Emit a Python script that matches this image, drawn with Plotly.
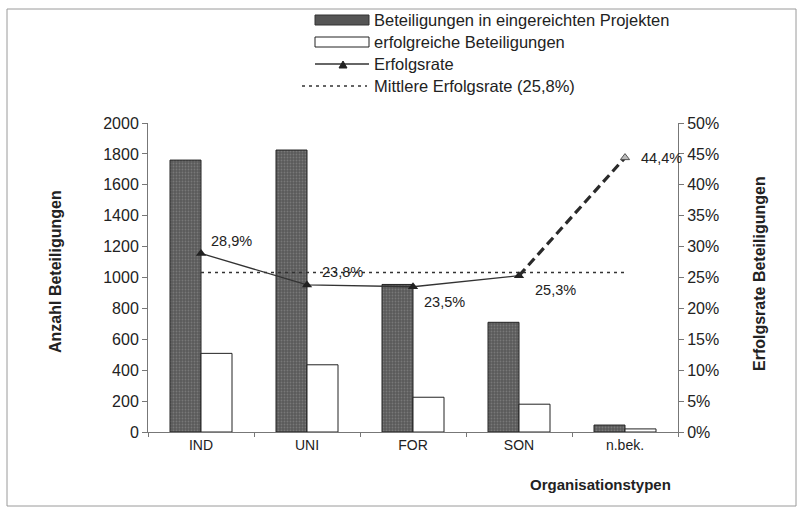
import plotly.graph_objects as go

categories = ["IND", "UNI", "FOR", "SON", "n.bek."]
eingereicht = [1760, 1825, 955, 710, 45]
erfolgreich = [509, 435, 225, 180, 20]
erfolgsrate = [28.9, 23.8, 23.5, 25.3, 44.4]
rate_labels = ["28,9%", "23,8%", "23,5%", "25,3%", "44,4%"]
mittel = 25.8
left_ticks = list(range(0, 2001, 200))
right_ticks = list(range(0, 51, 5))
right_ticklabels = [f"{v}%" for v in right_ticks]

W, H = 798, 509
L, R, T, B = 148, 678, 123, 432
FONT = "Liberation Sans, Arial, sans-serif"
TXT = "#222222"

def px(x):
    return (x - L) / (R - L)

def py(y):
    return (B - y) / (B - T)

fig = go.Figure()
fig.add_trace(go.Bar(
    x=categories, y=eingereicht, name="Beteiligungen in eingereichten Projekten",
    marker=dict(color="#5e5e5e", line=dict(color="#222222", width=1),
                pattern=dict(shape=".", fgcolor="#959595", bgcolor="#5a5a5a", size=3, solidity=0.3)),
    showlegend=False))
fig.add_trace(go.Bar(
    x=categories, y=erfolgreich, name="erfolgreiche Beteiligungen",
    marker=dict(color="white", line=dict(color="#222222", width=1)),
    showlegend=False))
# mean line
fig.add_trace(go.Scatter(
    x=[categories[0], categories[-1]], y=[mittel, mittel], yaxis="y2", mode="lines",
    line=dict(color="#333333", width=1.5, dash="3px,4px"), showlegend=False))
# success rate solid part
fig.add_trace(go.Scatter(
    x=categories[:4], y=erfolgsrate[:4], yaxis="y2", mode="lines+markers",
    line=dict(color="#333333", width=1.3),
    marker=dict(symbol="triangle-up", size=9, color="#222222"), showlegend=False))
# success rate dashed part
fig.add_trace(go.Scatter(
    x=categories[3:], y=erfolgsrate[3:], yaxis="y2", mode="lines",
    line=dict(color="#2a2a2a", width=3.2, dash="9px,5px"), showlegend=False))
fig.add_trace(go.Scatter(
    x=[categories[4]], y=[erfolgsrate[4]], yaxis="y2", mode="markers",
    marker=dict(symbol="triangle-up", size=8, color="#bbbbbb", line=dict(color="#555555", width=1)),
    showlegend=False))

annotations = []
offsets = [(8, 12), (13, 13), (9, -15), (14, -14), (14, 0)]
for c, v, t, (dx, dy) in zip(categories, erfolgsrate, rate_labels, offsets):
    annotations.append(dict(x=c, y=v, yref="y2", xref="x", text=t, showarrow=False,
                            xanchor="left", yanchor="middle", xshift=dx, yshift=dy,
                            font=dict(family=FONT, size=14.5, color=TXT)))

# axis titles
annotations.append(dict(x=px(600), y=py(484), xref="paper", yref="paper", text="<b>Organisationstypen</b>",
                        showarrow=False, xanchor="center", yanchor="middle",
                        font=dict(family=FONT, size=15, color=TXT)))
annotations.append(dict(x=px(55), y=py(272), xref="paper", yref="paper", text="<b>Anzahl Beteiligungen</b>",
                        showarrow=False, textangle=-90, xanchor="center", yanchor="middle",
                        font=dict(family=FONT, size=16, color=TXT)))
annotations.append(dict(x=px(759), y=py(274), xref="paper", yref="paper", text="<b>Erfolgsrate Beteiligungen</b>",
                        showarrow=False, textangle=-90, xanchor="center", yanchor="middle",
                        font=dict(family=FONT, size=16, color=TXT)))

# manual legend
legend_items = ["Beteiligungen in eingereichten Projekten", "erfolgreiche Beteiligungen",
                "Erfolgsrate", "Mittlere Erfolgsrate (25,8%)"]
leg_y = [20, 42, 64, 86]
for txt, yy in zip(legend_items, leg_y):
    annotations.append(dict(x=px(372), y=py(yy), xref="paper", yref="paper", text=txt,
                            showarrow=False, xanchor="left", yanchor="middle",
                            font=dict(family=FONT, size=16.5, color=TXT)))

shapes = [
    dict(type="rect", xref="paper", yref="paper", x0=px(7), x1=px(796), y0=py(506), y1=py(9),
         line=dict(color="#9a9a9a", width=1)),
    dict(type="rect", xref="paper", yref="paper", x0=px(315), x1=px(369), y0=py(25), y1=py(15),
         fillcolor="#555555", line=dict(color="#333333", width=1)),
    dict(type="rect", xref="paper", yref="paper", x0=px(315), x1=px(369), y0=py(47), y1=py(37),
         fillcolor="white", line=dict(color="#222222", width=1)),
    dict(type="line", xref="paper", yref="paper", x0=px(315), x1=px(369), y0=py(64), y1=py(64),
         line=dict(color="#333333", width=1.3)),
    dict(type="path", xref="paper", yref="paper",
         path=f"M {px(339)} {py(68)} L {px(347)} {py(68)} L {px(343)} {py(61)} Z",
         fillcolor="#222222", line=dict(color="#222222", width=1)),
    dict(type="line", xref="paper", yref="paper", x0=px(302), x1=px(367), y0=py(86), y1=py(86),
         line=dict(color="#333333", width=1.5, dash="3px,4px")),
]

axis_font = dict(family=FONT, size=16, color=TXT)
fig.update_layout(
    width=W, height=H,
    margin=dict(l=L, r=W - R, t=T, b=H - B),
    paper_bgcolor="white", plot_bgcolor="white",
    barmode="group", bargap=0.415, bargroupgap=0,
    showlegend=False,
    xaxis=dict(type="category", showline=True, linecolor="#777777", linewidth=1,
               ticks="outside", ticklen=4, tickcolor="#777777", tickson="boundaries",
               tickfont=dict(family=FONT, size=14, color=TXT), showgrid=False,
               range=[-0.5, 4.5]),
    yaxis=dict(range=[0, 2000], tickvals=left_ticks, showline=True, linecolor="#777777",
               ticks="outside", ticklen=5, tickcolor="#777777", showgrid=False, zeroline=False,
               tickfont=axis_font),
    yaxis2=dict(range=[0, 50], tickvals=right_ticks, ticktext=right_ticklabels, overlaying="y",
                side="right", showline=True, linecolor="#777777", ticks="outside", ticklen=5,
                tickcolor="#777777", showgrid=False, zeroline=False, tickfont=axis_font),
    annotations=annotations, shapes=shapes,
)
fig.write_html("out.html", config={"displayModeBar": False},
               post_script="document.body.style.margin='0px';document.body.style.overflow='hidden';")
